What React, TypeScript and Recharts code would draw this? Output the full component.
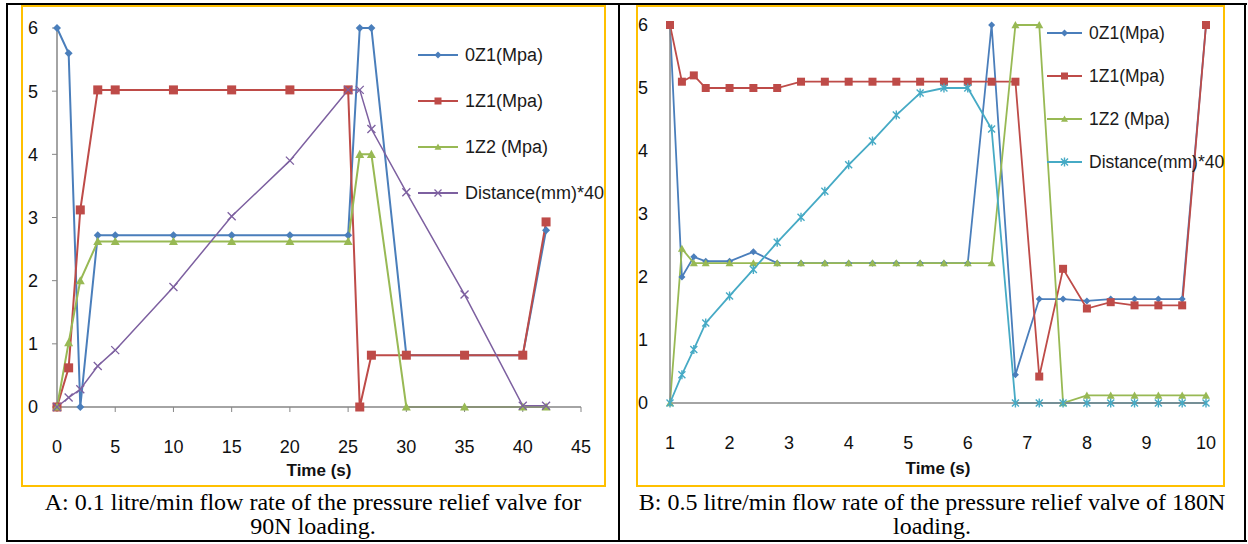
import React from "react";
import { LineChart, Line, XAxis, YAxis } from "recharts";

// ---- chart A: 0.1 litre/min, 90N ----
const timeA = [0, 1, 2, 3.5, 5, 10, 15, 20, 25, 26, 27, 30, 35, 40, 42];
const oz1A = [6, 5.6, 0, 2.72, 2.72, 2.72, 2.72, 2.72, 2.72, 6, 6, 0.82, 0.82, 0.82, 2.8];
const z1A = [0, 0.62, 3.12, 5.02, 5.02, 5.02, 5.02, 5.02, 5.02, 0, 0.82, 0.82, 0.82, 0.82, 2.93];
const z2A = [0, 1.02, 2.0, 2.62, 2.62, 2.62, 2.62, 2.62, 2.62, 4.0, 4.0, 0, 0, 0, 0];
const distA = [0, 0.15, 0.28, 0.65, 0.9, 1.9, 3.02, 3.9, 5.02, 5.02, 4.4, 3.4, 1.78, 0.02, 0.02];
const xTicksA = [0, 5, 10, 15, 20, 25, 30, 35, 40, 45];

// ---- chart B: 0.5 litre/min, 180N ----
const timeB = [1, 1.2, 1.4, 1.6, 2, 2.4, 2.8, 3.2, 3.6, 4, 4.4, 4.8, 5.2, 5.6, 6, 6.4, 6.8, 7.2, 7.6, 8, 8.4, 8.8, 9.2, 9.6, 10];
const oz1B = [6, 2.0, 2.32, 2.25, 2.25, 2.4, 2.22, 2.22, 2.22, 2.22, 2.22, 2.22, 2.22, 2.22, 2.22, 6, 0.45, 1.65, 1.65, 1.62, 1.65, 1.65, 1.65, 1.65, 6];
const z1B = [6, 5.1, 5.2, 5.0, 5.0, 5.0, 5.0, 5.1, 5.1, 5.1, 5.1, 5.1, 5.1, 5.1, 5.1, 5.1, 5.1, 0.42, 2.13, 1.5, 1.6, 1.55, 1.55, 1.55, 6];
const z2B = [0, 2.45, 2.22, 2.22, 2.22, 2.22, 2.22, 2.22, 2.22, 2.22, 2.22, 2.22, 2.22, 2.22, 2.22, 2.22, 6, 6, 0, 0.12, 0.12, 0.12, 0.12, 0.12, 0.12];
const distB = [0, 0.45, 0.85, 1.27, 1.7, 2.12, 2.55, 2.95, 3.36, 3.78, 4.16, 4.57, 4.92, 5.0, 5.0, 4.35, 0, 0, 0, 0, 0, 0, 0, 0, 0];
const xTicksB = [1, 2, 3, 4, 5, 6, 7, 8, 9, 10];

const yTicks = [0, 1, 2, 3, 4, 5, 6];
const names = ["0Z1(Mpa)", "1Z1(Mpa)", "1Z2 (Mpa)", "Distance(mm)*40"];

const BLUE = "#4A7EBB";
const RED = "#BE4B48";
const GREEN = "#98B954";
const PURPLE = "#7D60A0";
const CYAN = "#46AAC5";
const AXIS = "#868686";
const TICK_FONT = "'Liberation Sans', Arial, sans-serif";

const dataA = timeA.map((t, i) => ({ t, oz1: oz1A[i], z1: z1A[i], z2: z2A[i], dist: distA[i] }));
const dataB = timeB.map((t, i) => ({ t, oz1: oz1B[i], z1: z1B[i], z2: z2B[i], dist: distB[i] }));

function Marker({ kind, color, x, y, s }: { kind: string; color: string; x: number; y: number; s: number }) {
  switch (kind) {
    case "diamond":
      return <path d={`M${x},${y - s}L${x + s},${y}L${x},${y + s}L${x - s},${y}Z`} fill={color} />;
    case "square":
      return <rect x={x - s} y={y - s} width={2 * s} height={2 * s} fill={color} />;
    case "triangle":
      return <path d={`M${x},${y - s}L${x + s},${y + s * 0.8}L${x - s},${y + s * 0.8}Z`} fill={color} />;
    case "x":
      return (
        <path
          d={`M${x - s},${y - s}L${x + s},${y + s}M${x - s},${y + s}L${x + s},${y - s}`}
          stroke={color}
          strokeWidth={1.3}
          fill="none"
        />
      );
    default:
      return (
        <path
          d={`M${x - s},${y - s}L${x + s},${y + s}M${x - s},${y + s}L${x + s},${y - s}M${x},${y - s - 1}L${x},${y + s + 1}`}
          stroke={color}
          strokeWidth={1.4}
          fill="none"
        />
      );
  }
}

const dot = (kind: string, color: string, s: number) => (p: any) => {
  const { cx, cy, index } = p;
  if (cx == null || cy == null) return <g key={index} />;
  return (
    <g key={index}>
      <Marker kind={kind} color={color} x={cx} y={cy} s={s} />
    </g>
  );
};

type Item = { name: string; kind: string; color: string; s: number };

function Legend({ items, left, top, gap, lineW, size }: { items: Item[]; left: number; top: number; gap: number; lineW: number; size: number }) {
  return (
    <>
      {items.map((it, i) => (
        <div
          key={it.name}
          style={{
            position: "absolute",
            left,
            top: top + i * gap - 12,
            height: 24,
            display: "flex",
            alignItems: "center",
            whiteSpace: "nowrap",
            fontFamily: TICK_FONT,
            fontSize: size,
            color: "#1a1a1a",
          }}
        >
          <svg width={lineW + 4} height={16} style={{ marginRight: 3 }}>
            <line x1={0} y1={8} x2={lineW} y2={8} stroke={it.color} strokeWidth={2} />
            <Marker kind={it.kind} color={it.color} x={lineW / 2} y={8} s={it.s} />
          </svg>
          {it.name}
        </div>
      ))}
    </>
  );
}

const legendA: Item[] = [
  { name: names[0], kind: "diamond", color: BLUE, s: 3.5 },
  { name: names[1], kind: "square", color: RED, s: 3.5 },
  { name: names[2], kind: "triangle", color: GREEN, s: 3.5 },
  { name: names[3], kind: "x", color: PURPLE, s: 3.5 },
];
const legendB: Item[] = [
  { name: names[0], kind: "diamond", color: BLUE, s: 3.5 },
  { name: names[1], kind: "square", color: RED, s: 3.5 },
  { name: names[2], kind: "triangle", color: GREEN, s: 3.5 },
  { name: names[3], kind: "star", color: CYAN, s: 3.5 },
];

const tick = { fill: "#111", fontSize: 18, fontFamily: TICK_FONT };
const timeLabel = (offset: number) => ({
  value: "Time (s)",
  position: "insideBottom" as const,
  offset,
  style: { fill: "#111", fontSize: 17, fontWeight: 700, fontFamily: TICK_FONT },
});

const box = (left: number, top: number, width: number, height: number, bg = "#000") => (
  <div style={{ position: "absolute", left, top, width, height, background: bg }} />
);

const captionStyle: React.CSSProperties = {
  position: "absolute",
  top: 490,
  textAlign: "center",
  fontFamily: "'Liberation Serif', 'Times New Roman', serif",
  fontSize: 24,
  lineHeight: "24px",
  color: "#000",
  whiteSpace: "nowrap",
};

export default function App() {
  return (
    <div
      style={{
        position: "absolute",
        left: 0,
        top: 0,
        width: 1248,
        height: 544,
        background: "#fff",
        overflow: "hidden",
      }}
    >
      {/* table borders */}
      {box(6, 3, 1241, 2)}
      {box(6, 540, 1241, 2)}
      {box(6, 3, 2, 539)}
      {box(618, 3, 2, 539)}
      {box(1244, 3, 2, 539)}

      {/* yellow chart frames */}
      <div style={{ position: "absolute", left: 21, top: 5, width: 585, height: 482, border: "2px solid #FFC000", boxSizing: "border-box" }} />
      <div style={{ position: "absolute", left: 636, top: 5, width: 589, height: 482, border: "2px solid #FFC000", boxSizing: "border-box" }} />

      {/* Chart A */}
      <div style={{ position: "absolute", left: 22, top: 6 }}>
        <LineChart width={583} height={480} data={dataA} margin={{ top: 22, right: 24, left: 0, bottom: 0 }}>
          <XAxis
            dataKey="t"
            type="number"
            domain={[0, 45]}
            ticks={xTicksA}
            interval={0}
            height={79}
            axisLine={{ stroke: AXIS, strokeWidth: 1.5 }}
            tickLine={{ stroke: AXIS }}
            tickSize={5}
            tickMargin={28}
            tick={tick}
            label={timeLabel(10)}
          />
          <YAxis
            type="number"
            domain={[0, 6]}
            ticks={yTicks}
            interval={0}
            width={35}
            axisLine={{ stroke: AXIS, strokeWidth: 1.5 }}
            tickLine={{ stroke: AXIS }}
            tickSize={5}
            tickMargin={14}
            tick={tick}
          />
          <Line dataKey="oz1" stroke={BLUE} strokeWidth={2} dot={dot("diamond", BLUE, 4)} isAnimationActive={false} />
          <Line dataKey="z1" stroke={RED} strokeWidth={2} dot={dot("square", RED, 4.5)} isAnimationActive={false} />
          <Line dataKey="z2" stroke={GREEN} strokeWidth={2} dot={dot("triangle", GREEN, 4.5)} isAnimationActive={false} />
          <Line dataKey="dist" stroke={PURPLE} strokeWidth={1.5} dot={dot("x", PURPLE, 4)} isAnimationActive={false} />
        </LineChart>
      </div>
      <Legend items={legendA} left={418} top={55} gap={46} lineW={40} size={18} />

      {/* Chart B */}
      <div style={{ position: "absolute", left: 637, top: 6 }}>
        <LineChart width={586} height={480} data={dataB} margin={{ top: 19, right: 17, left: 0, bottom: 0 }}>
          <XAxis
            dataKey="t"
            type="number"
            domain={[1, 10]}
            ticks={xTicksB}
            interval={0}
            height={83}
            axisLine={{ stroke: AXIS, strokeWidth: 1.5 }}
            tickLine={false}
            tickSize={5}
            tickMargin={28}
            tick={tick}
            label={timeLabel(12)}
          />
          <YAxis
            type="number"
            domain={[0, 6]}
            ticks={yTicks}
            interval={0}
            width={33}
            axisLine={{ stroke: AXIS, strokeWidth: 1.5 }}
            tickLine={false}
            tickSize={4}
            tickMargin={18}
            tick={tick}
          />
          <Line dataKey="oz1" stroke={BLUE} strokeWidth={1.8} dot={dot("diamond", BLUE, 3.5)} isAnimationActive={false} />
          <Line dataKey="z1" stroke={RED} strokeWidth={1.8} dot={dot("square", RED, 4)} isAnimationActive={false} />
          <Line dataKey="z2" stroke={GREEN} strokeWidth={1.8} dot={dot("triangle", GREEN, 4)} isAnimationActive={false} />
          <Line dataKey="dist" stroke={CYAN} strokeWidth={1.8} dot={dot("star", CYAN, 3.5)} isAnimationActive={false} />
        </LineChart>
      </div>
      <Legend items={legendB} left={1047} top={33} gap={43} lineW={35} size={17.5} />

      {/* captions */}
      <div style={{ ...captionStyle, left: 8, width: 610 }}>
        A: 0.1 litre/min flow rate of the pressure relief valve for
        <br />
        90N loading.
      </div>
      <div style={{ ...captionStyle, left: 620, width: 624 }}>
        B: 0.5 litre/min flow rate of the pressure relief valve of 180N
        <br />
        loading.
      </div>
    </div>
  );
}
